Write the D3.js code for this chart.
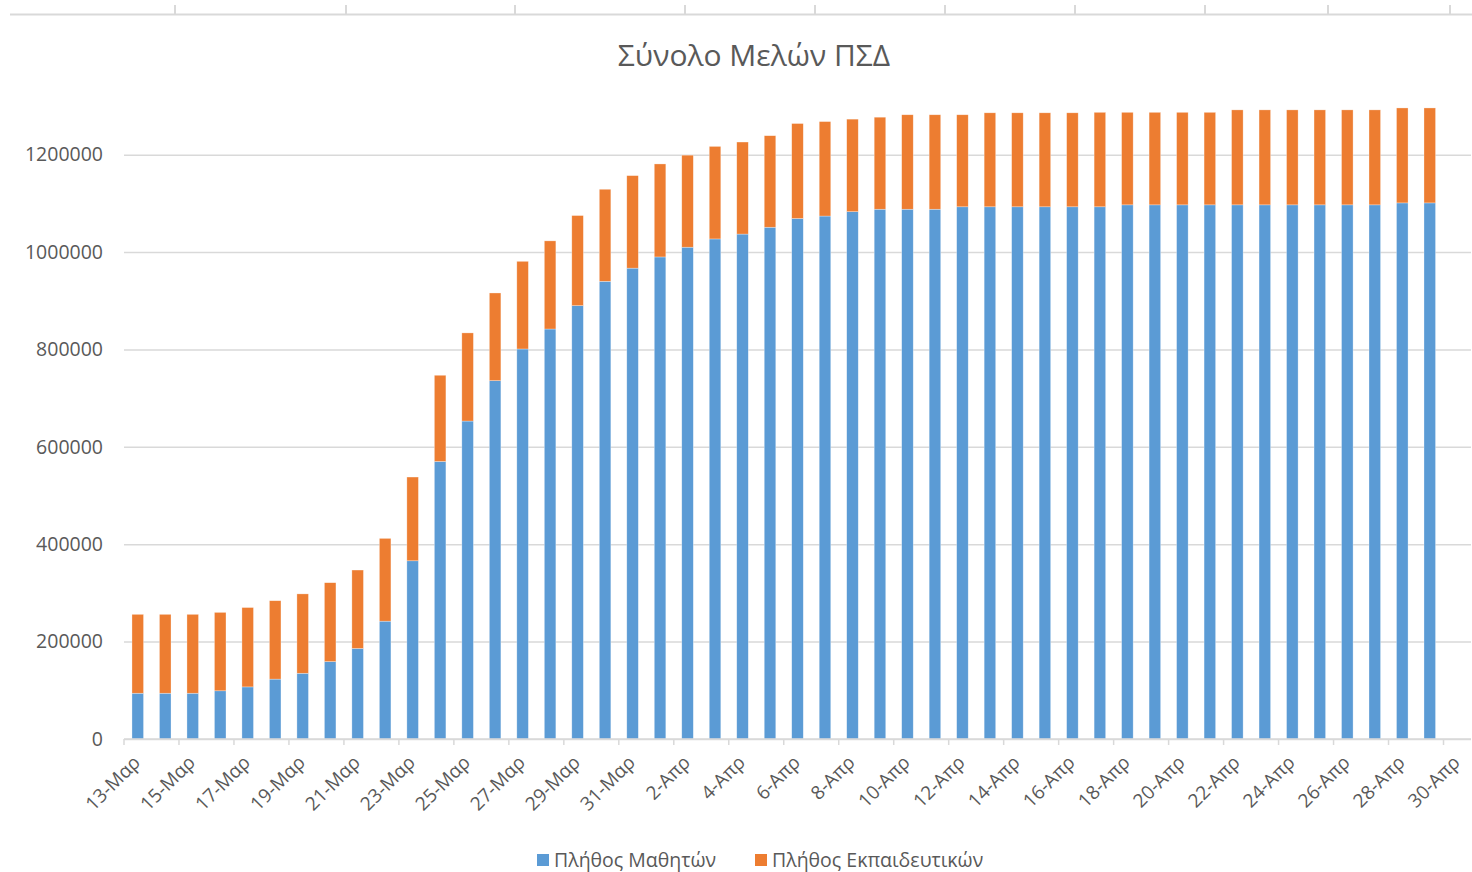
<!DOCTYPE html>
<html>
<head>
<meta charset="utf-8">
<script src="https://cdn.jsdelivr.net/npm/d3@7"></script>
<style>
  body { margin: 0; background: #fff; }
  svg text { font-family: "Open Sans", sans-serif; fill: #595959; }
</style>
</head>
<body>
<svg id="chart" width="1472" height="872"></svg>
<script>
const title = "Σύνολο Μελών ΠΣΔ"

const dates = [
  "13-Μαρ","14-Μαρ","15-Μαρ","16-Μαρ","17-Μαρ","18-Μαρ","19-Μαρ","20-Μαρ","21-Μαρ","22-Μαρ",
  "23-Μαρ","24-Μαρ","25-Μαρ","26-Μαρ","27-Μαρ","28-Μαρ","29-Μαρ","30-Μαρ","31-Μαρ",
  "1-Απρ","2-Απρ","3-Απρ","4-Απρ","5-Απρ","6-Απρ","7-Απρ","8-Απρ","9-Απρ","10-Απρ",
  "11-Απρ","12-Απρ","13-Απρ","14-Απρ","15-Απρ","16-Απρ","17-Απρ","18-Απρ","19-Απρ","20-Απρ",
  "21-Απρ","22-Απρ","23-Απρ","24-Απρ","25-Απρ","26-Απρ","27-Απρ","28-Απρ","29-Απρ","30-Απρ"
]

// Πλήθος Μαθητών
const students = [
  94000, 94000, 94000, 99000, 107000, 123000, 135000, 159000, 186000, 242000,
  366000, 570000, 653000, 736000, 801000, 842000, 890000, 940000, 967000,
  990000, 1010000, 1027000, 1037000, 1051000, 1069000, 1074000, 1083000, 1088000, 1088000,
  1088000, 1093000, 1093000, 1093000, 1093000, 1093000, 1093000, 1097000, 1097000, 1097000,
  1097000, 1097000, 1097000, 1097000, 1097000, 1097000, 1097000, 1101000, 1101000, null
]

// Πλήθος Εκπαιδευτικών
const teachers = [
  162000, 162000, 162000, 161000, 163000, 161000, 163000, 162000, 161000, 170000,
  172000, 177000, 181000, 180000, 180000, 181000, 185000, 189000, 190000,
  191000, 189000, 190000, 189000, 188000, 195000, 194000, 190000, 189000, 194000,
  194000, 189000, 193000, 193000, 193000, 193000, 194000, 190000, 190000, 190000,
  190000, 195000, 195000, 195000, 195000, 195000, 195000, 195000, 195000, null
]

const seriesNames = ["Πλήθος Μαθητών", "Πλήθος Εκπαιδευτικών"]
const colors = ["#5b9bd5", "#ed7d31"]
const yTicks = [0, 200000, 400000, 600000, 800000, 1000000, 1200000]

const svg = d3.select("#chart")
const M = {left: 124, right: 1471, top: 106, bottom: 739}

const rows = dates.map((d, i) => ({date: d, s: students[i] || 0, t: teachers[i] || 0}))
const stack = d3.stack().keys(["s", "t"])(rows)

const x = d3.scaleBand().domain(dates).range([M.left, M.right]).paddingInner(0.58).paddingOuter(0.29)
const y = d3.scaleLinear().domain([0, 1300000]).range([M.bottom, M.top])

// remnant of the chart above (cropped in the screenshot)
svg.append("line").attr("x1", 10).attr("x2", 1472).attr("y1", 14.5).attr("y2", 14.5)
  .attr("stroke", "#d9d9d9").attr("stroke-width", 2)
svg.selectAll("line.prev").data([175, 346, 515, 685, 815, 945, 1075, 1205, 1328, 1450])
  .join("line").attr("class", "prev")
  .attr("x1", d => d).attr("x2", d => d).attr("y1", 5).attr("y2", 14)
  .attr("stroke", "#d9d9d9").attr("stroke-width", 2)

svg.append("text").attr("x", 754).attr("y", 66).attr("text-anchor", "middle")
  .style("font-size", "30px").text(title)

// gridlines + y labels
svg.append("g")
  .attr("transform", `translate(${M.left},0)`)
  .call(d3.axisLeft(y).tickValues(yTicks).tickSize(-(M.right - M.left)).tickPadding(21).tickFormat(d3.format("d")))
  .call(g => g.select(".domain").remove())
  .call(g => g.selectAll(".tick line").attr("stroke", "#d9d9d9").attr("stroke-width", 1.5))
  .call(g => g.selectAll(".tick text").style("font-size", "19.5px").attr("fill", "#595959"))

svg.append("g").selectAll("g").data(stack).join("g")
  .attr("fill", (d, i) => colors[i])
  .selectAll("rect").data(d => d).join("rect")
  .attr("x", d => x(d.data.date))
  .attr("width", x.bandwidth())
  .attr("y", d => y(d[1]))
  .attr("height", d => y(d[0]) - y(d[1]))
  .attr("stroke", "#fff").attr("stroke-opacity", 0.5).attr("stroke-width", 0.6)

// x axis: ticks every 2 categories at category edges, labels centred
const step = x.step()
const xg = svg.append("g")
xg.append("line").attr("x1", M.left).attr("x2", M.right).attr("y1", M.bottom).attr("y2", M.bottom)
  .attr("stroke", "#d9d9d9").attr("stroke-width", 1.5)
xg.selectAll("line.tk").data(d3.range(0, dates.length + 1, 2)).join("line").attr("class", "tk")
  .attr("x1", i => M.left + i * step).attr("x2", i => M.left + i * step)
  .attr("y1", M.bottom).attr("y2", M.bottom + 6)
  .attr("stroke", "#d9d9d9").attr("stroke-width", 1.5)
xg.selectAll("text").data(dates.filter((d, i) => i % 2 == 0)).join("text")
  .attr("transform", d => `translate(${x(d) + x.bandwidth() / 2 - 1},${M.bottom + 20}) rotate(-45)`)
  .attr("text-anchor", "end").attr("dy", "0.35em")
  .style("font-size", "19px").text(d => d)

// legend
const legendX = [537, 755]
const lg = svg.append("g").selectAll("g").data(seriesNames).join("g")
  .attr("transform", (d, i) => `translate(${legendX[i]},860)`)
lg.append("rect").attr("x", 0).attr("y", -6).attr("width", 12).attr("height", 12).attr("fill", (d, i) => colors[i])
lg.append("text").attr("x", 17).attr("dy", "0.35em").style("font-size", "19.5px").text(d => d)
</script>
</body>
</html>
